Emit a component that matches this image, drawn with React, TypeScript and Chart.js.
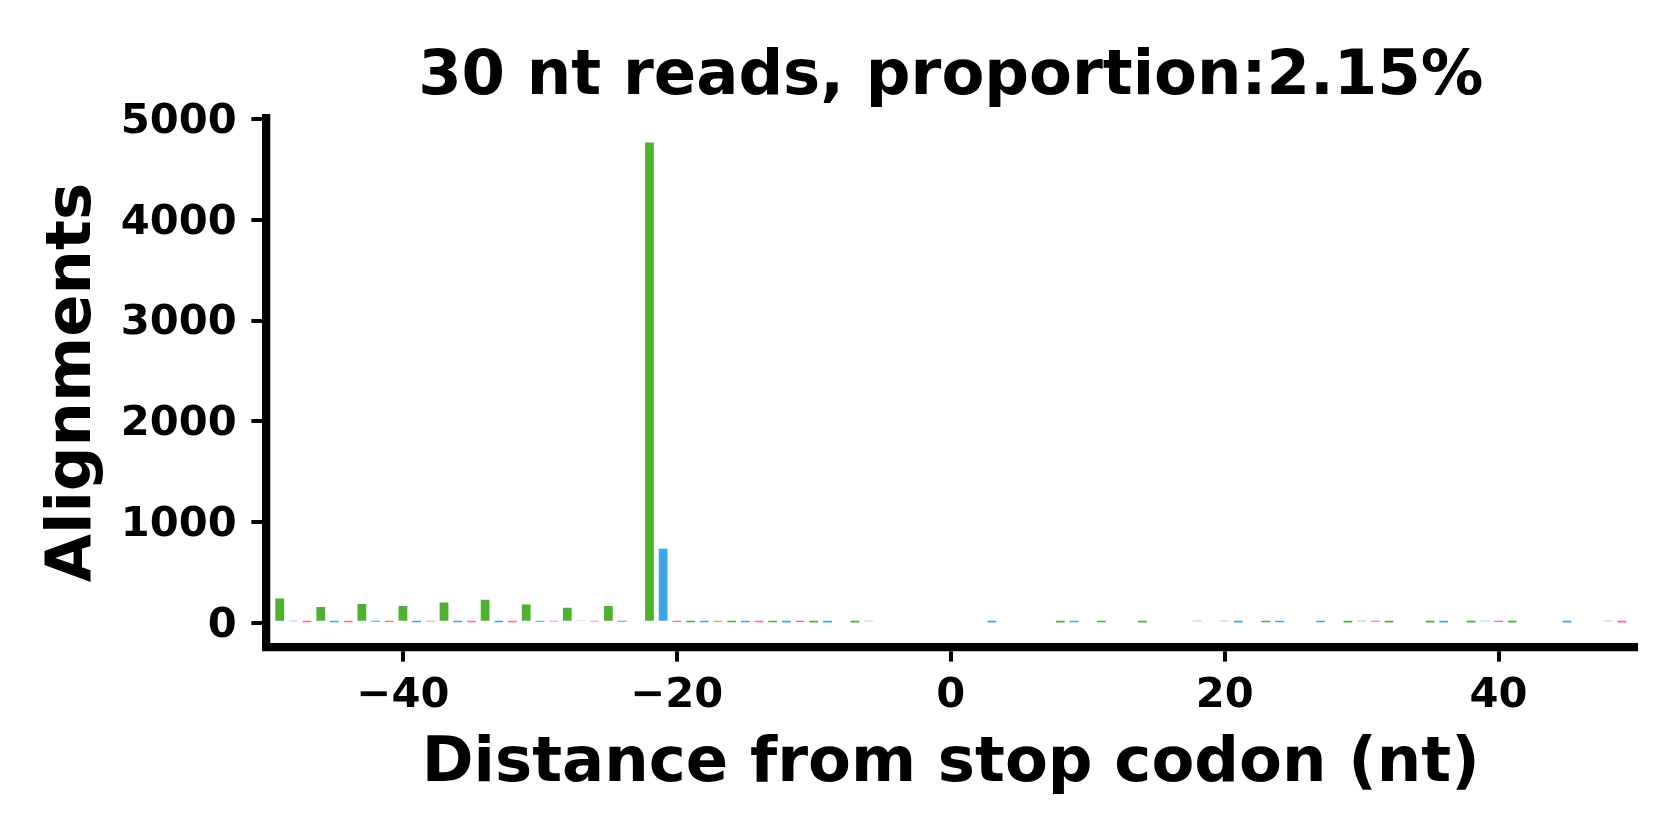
import React, { useEffect, useRef } from "react";
import { Chart, registerables } from "chart.js";

Chart.register(...registerables);

// Distance from stop codon (nt), one bar per position
const positions: number[] = Array.from({ length: 99 }, (_, i) => i - 49);

// Alignment counts for positions -49 .. 49
const counts: number[] = [
  // -49 .. -40
  240, 15, 4, 157, 5, 5, 187, 10, 8, 167,
  // -39 .. -30
  5, 12, 200, 5, 5, 229, 5, 5, 180, 10,
  // -29 .. -20
  12, 150, 18, 12, 167, 10, 20, 4770, 735, 8,
  // -19 .. -10
  6, 6, 10, 6, 6, 6, 6, 3, 8, 3,
  // -9 .. 0
  3, 0, 3, 15, 0, 0, 0, 0, 0, 0,
  // 1 .. 10
  0, 0, 3, 0, 0, 0, 0, 3, 6, 0,
  // 11 .. 20
  6, 0, 0, 3, 0, 0, 0, 15, 0, 15,
  // 21 .. 30
  3, 0, 6, 6, 0, 0, 6, 0, 3, 15,
  // 31 .. 40
  10, 3, 0, 0, 3, 3, 0, 3, 15, 8,
  // 41 .. 49
  3, 0, 0, 0, 3, 0, 0, 15, 3,
];

const frameColors: string[] = ["#4FB130", "#3FA4EA", "#FF6B81"];

const xTicks: number[] = [-40, -20, 0, 20, 40];
const yTicks: number[] = [0, 1000, 2000, 3000, 4000, 5000];

const titleText = "30 nt reads, proportion:2.15%";
const xLabel = "Distance from stop codon (nt)";
const yLabel = "Alignments";

const FONT = "'DejaVu Sans', 'Liberation Sans', sans-serif";

export default function App() {
  const ref = useRef<HTMLCanvasElement | null>(null);

  useEffect(() => {
    document.body.style.margin = "0";
    const canvas = ref.current;
    if (!canvas) return;
    const fmt = (v: number) => (v < 0 ? "\u2212" + Math.abs(v) : String(v));
    const chart = new Chart(canvas, {
      type: "bar",
      data: {
        datasets: [
          {
            label: "counts",
            data: positions.map((x, i) => ({ x, y: counts[i] })),
            backgroundColor: positions.map((_, i) => frameColors[i % 3]),
            borderWidth: 0,
            barPercentage: 0.64,
            categoryPercentage: 1,
          },
        ],
      },
      options: {
        responsive: false,
        animation: false,
        devicePixelRatio: 1,
        layout: { padding: { left: 0, right: 44.5, top: 0, bottom: 0 } },
        plugins: {
          legend: { display: false },
          tooltip: { enabled: false },
          title: {
            display: true,
            fullSize: false,
            align: "center",
            text: titleText,
            color: "#000",
            font: { family: FONT, size: 62.5, weight: "bold", lineHeight: 1 },
            padding: { top: 46.2, bottom: 9.5 },
          },
        },
        scales: {
          x: {
            type: "linear",
            min: -50,
            max: 50,
            offset: false,
            afterFit: (s: any) => {
              s.height = 193;
            },
            afterBuildTicks: (s: any) => {
              s.ticks = xTicks.map((v) => ({ value: v }));
            },
            grid: {
              display: true,
              offset: false,
              drawOnChartArea: false,
              drawTicks: true,
              tickLength: 14.6,
              lineWidth: 4,
              color: "#000",
            },
            border: { display: true, width: 8.3, color: "#000" },
            ticks: {
              color: "#000",
              padding: 9.4,
              maxRotation: 0,
              autoSkip: false,
              font: { family: FONT, size: 41.67, weight: "bold" },
              callback: (v: any) => fmt(Number(v)),
            },
            title: {
              display: true,
              text: xLabel,
              color: "#000",
              font: { family: FONT, size: 62.5, weight: "bold", lineHeight: 1.2 },
              padding: { top: 0, bottom: 37.6 },
            },
          },
          y: {
            type: "linear",
            min: -241,
            max: 5011,
            afterFit: (s: any) => {
              s.width = 266;
            },
            afterBuildTicks: (s: any) => {
              s.ticks = yTicks.map((v) => ({ value: v }));
            },
            grid: {
              display: true,
              drawOnChartArea: false,
              drawTicks: true,
              tickLength: 14.6,
              lineWidth: 4,
              color: "#000",
            },
            border: { display: true, width: 8.3, color: "#000" },
            ticks: {
              color: "#000",
              padding: 14.6,
              labelOffset: 3,
              autoSkip: false,
              font: { family: FONT, size: 41.67, weight: "bold" },
              callback: (v: any) => fmt(Number(v)),
            },
            title: {
              display: true,
              text: yLabel,
              color: "#000",
              font: { family: FONT, size: 62.5, weight: "bold", lineHeight: 1.2 },
              padding: { top: 36.5, bottom: 0 },
            },
          },
        },
      },
    } as any);
    return () => chart.destroy();
  }, []);

  return (
    <div style={{ position: "absolute", left: 0, top: 0, width: 1680, height: 840, background: "#fff" }}>
      <canvas ref={ref} width={1680} height={840} style={{ width: 1680, height: 840, display: "block" }} />
    </div>
  );
}
